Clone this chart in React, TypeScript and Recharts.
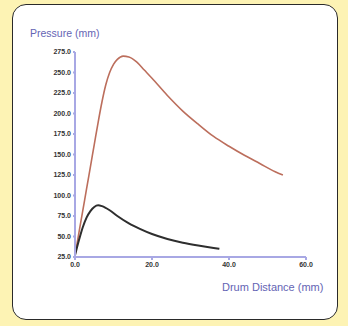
import { LineChart, Line, XAxis, YAxis } from 'recharts';

// drum distance vs pressure, two runs
const highRun = [
  { x: 0, y: 27 }, { x: 1, y: 54 }, { x: 2, y: 81 }, { x: 3, y: 108 },
  { x: 4, y: 135 }, { x: 5, y: 162 }, { x: 6, y: 189 }, { x: 7, y: 214 },
  { x: 8, y: 235 }, { x: 9, y: 250 }, { x: 10, y: 260 }, { x: 11, y: 266 },
  { x: 12.5, y: 270 }, { x: 14, y: 269 }, { x: 16, y: 263 }, { x: 18, y: 253 },
  { x: 20, y: 243 }, { x: 24, y: 222 }, { x: 28, y: 203 }, { x: 32, y: 187 },
  { x: 36, y: 172 }, { x: 40, y: 160 }, { x: 44, y: 149 }, { x: 48, y: 139 },
  { x: 52, y: 129 }, { x: 54, y: 125 },
];

const lowRun = [
  { x: 0, y: 27 }, { x: 1, y: 45 }, { x: 2, y: 61 }, { x: 3, y: 73 },
  { x: 4, y: 81 }, { x: 5, y: 86 }, { x: 6, y: 88 }, { x: 7, y: 87 },
  { x: 9, y: 82 }, { x: 11, y: 75 }, { x: 14, y: 66 }, { x: 17, y: 59 },
  { x: 20, y: 53 }, { x: 24, y: 47 }, { x: 28, y: 42.5 }, { x: 32, y: 39 },
  { x: 36, y: 36 }, { x: 37.5, y: 35 },
];

const xTicks = [0, 20, 40, 60];
const yTicks = [25, 50, 75, 100, 125, 150, 175, 200, 225, 250, 275];

const AXIS = '#a8a8e4';
const TITLE = '#6464b4';
const tickStyle = {
  fontSize: 7,
  fill: '#333',
  stroke: 'none',
  fontWeight: 700,
  fontFamily: 'Liberation Sans',
};

export default function App() {
  return (
    <div style={{ position: 'absolute', left: 0, top: 0, width: 348, height: 326, background: '#fdf3b4' }}>
      <div
        style={{
          position: 'absolute',
          left: 12,
          top: 4,
          width: 324,
          height: 314,
          background: '#fff',
          border: '1.5px solid #2a2a2a',
          borderRadius: 14,
        }}
      />
      <div
        style={{
          position: 'absolute',
          left: 30,
          top: 27,
          fontSize: 10.5,
          fontFamily: 'Liberation Sans',
          color: TITLE,
        }}
      >
        Pressure (mm)
      </div>
      <div
        style={{
          position: 'absolute',
          left: 222,
          top: 281,
          fontSize: 11,
          fontFamily: 'Liberation Sans',
          color: TITLE,
        }}
      >
        Drum Distance (mm)
      </div>
      <div style={{ position: 'absolute', left: 0, top: 0 }}>
        <LineChart width={348} height={326} margin={{ top: 52, right: 42, bottom: 49, left: 35 }}>
          <XAxis
            dataKey="x"
            type="number"
            domain={[0, 60]}
            ticks={xTicks}
            tickFormatter={(v: number) => v.toFixed(1)}
            allowDuplicatedCategory={false}
            stroke={AXIS}
            strokeWidth={2}
            tickSize={3}
            tick={tickStyle}
            height={20}
          />
          <YAxis
            dataKey="y"
            type="number"
            domain={[25, 275]}
            ticks={yTicks}
            tickFormatter={(v: number) => v.toFixed(1)}
            stroke={AXIS}
            strokeWidth={2}
            tickSize={2}
            tick={tickStyle}
            width={40}
          />
          <Line
            data={highRun}
            dataKey="y"
            type="monotone"
            stroke="#bc6e5c"
            strokeWidth={1.6}
            dot={false}
            isAnimationActive={false}
          />
          <Line
            data={lowRun}
            dataKey="y"
            type="monotone"
            stroke="#2e2e2e"
            strokeWidth={2}
            dot={false}
            isAnimationActive={false}
          />
        </LineChart>
      </div>
    </div>
  );
}
